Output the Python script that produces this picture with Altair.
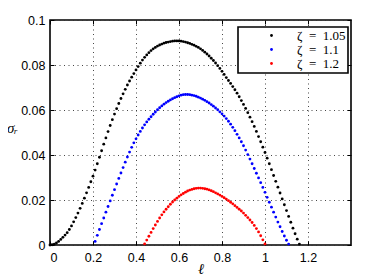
import altair as alt
import pandas as pd

# sigma_r, one value every 0.01 in ell
sigma_black = [
    0.0000, 0.0001, 0.0004, 0.0009, 0.0016, 0.0025, 0.0034, 0.0044, 0.0055, 0.0069,
    0.0085, 0.0103, 0.0122, 0.0142, 0.0163, 0.0185, 0.0208, 0.0232, 0.0256, 0.0281,
    0.0306, 0.0333, 0.0361, 0.0390, 0.0419, 0.0448, 0.0476, 0.0504, 0.0531, 0.0557,
    0.0582, 0.0606, 0.0629, 0.0651, 0.0672, 0.0692, 0.0711, 0.0729, 0.0746, 0.0762,
    0.0778, 0.0793, 0.0808, 0.0822, 0.0834, 0.0845, 0.0855, 0.0864, 0.0872, 0.0878,
    0.0884, 0.0889, 0.0893, 0.0897, 0.0900, 0.0902, 0.0904, 0.0906, 0.0907, 0.0907,
    0.0907, 0.0906, 0.0904, 0.0902, 0.0899, 0.0896, 0.0892, 0.0888, 0.0883, 0.0878,
    0.0872, 0.0865, 0.0857, 0.0849, 0.0840, 0.0830, 0.0820, 0.0809, 0.0797, 0.0785,
    0.0772, 0.0758, 0.0744, 0.0731, 0.0718, 0.0704, 0.0690, 0.0675, 0.0659, 0.0642,
    0.0625, 0.0607, 0.0588, 0.0568, 0.0548, 0.0527, 0.0505, 0.0482, 0.0459, 0.0435,
    0.0411, 0.0386, 0.0361, 0.0335, 0.0309, 0.0283, 0.0257, 0.0231, 0.0205, 0.0179,
    0.0153, 0.0127, 0.0101, 0.0075, 0.0050, 0.0026, 0.0004,
]
sigma_blue = [
    0.0016, 0.0043, 0.0069, 0.0095, 0.0120, 0.0146, 0.0171, 0.0196, 0.0221, 0.0246,
    0.0271, 0.0296, 0.0320, 0.0344, 0.0368, 0.0391, 0.0413, 0.0434, 0.0454, 0.0472,
    0.0489, 0.0505, 0.0520, 0.0534, 0.0547, 0.0559, 0.0570, 0.0581, 0.0591, 0.0601,
    0.0610, 0.0618, 0.0626, 0.0633, 0.0639, 0.0645, 0.0650, 0.0655, 0.0659, 0.0663,
    0.0666, 0.0668, 0.0669, 0.0669, 0.0668, 0.0666, 0.0664, 0.0661, 0.0657, 0.0653,
    0.0648, 0.0643, 0.0637, 0.0631, 0.0624, 0.0617, 0.0609, 0.0601, 0.0592, 0.0583,
    0.0573, 0.0562, 0.0550, 0.0537, 0.0523, 0.0508, 0.0492, 0.0476, 0.0459, 0.0441,
    0.0422, 0.0402, 0.0382, 0.0361, 0.0340, 0.0319, 0.0298, 0.0277, 0.0256, 0.0234,
    0.0212, 0.0190, 0.0168, 0.0146, 0.0124, 0.0102, 0.0081, 0.0060, 0.0040, 0.0021,
    0.0004,
]
sigma_red = [
    0.0005, 0.0022, 0.0039, 0.0056, 0.0073, 0.0089, 0.0105, 0.0120, 0.0134, 0.0147,
    0.0159, 0.0170, 0.0181, 0.0191, 0.0200, 0.0208, 0.0216, 0.0223, 0.0229, 0.0235,
    0.0240, 0.0244, 0.0247, 0.0250, 0.0252, 0.0253, 0.0253, 0.0252, 0.0250, 0.0248,
    0.0245, 0.0241, 0.0237, 0.0232, 0.0227, 0.0222, 0.0216, 0.0210, 0.0204, 0.0197,
    0.0190, 0.0183, 0.0175, 0.0167, 0.0159, 0.0151, 0.0142, 0.0132, 0.0122, 0.0111,
    0.0100, 0.0087, 0.0073, 0.0058, 0.0041, 0.0023, 0.0005,
]
ell_black = [round(0.01 * i, 2) for i in range(0, 117)]
ell_blue = [round(0.01 * i, 2) for i in range(21, 112)]
ell_red = [round(0.01 * i, 2) for i in range(44, 101)]

series_labels = ["ζ\u2002=\u20021.05", "ζ\u2002=\u20021.1", "ζ\u2002=\u20021.2"]
series_colors = ["#000000", "#0000ff", "#ff0000"]
x_ticks = [0, 0.2, 0.4, 0.6, 0.8, 1.0, 1.2]
y_ticks = [0, 0.02, 0.04, 0.06, 0.08, 0.1]

rows = []
for lab, ells, sig in zip(series_labels, [ell_black, ell_blue, ell_red],
                          [sigma_black, sigma_blue, sigma_red]):
    for l, s in zip(ells, sig):
        rows.append({"l": l, "s": s, "z": lab})
df = pd.DataFrame(rows)

W, H = 301, 225
xs = alt.Scale(domain=[0, 1.4], nice=False, zero=False)
ys = alt.Scale(domain=[0, 0.1], nice=False)

label_style = dict(labelFont="Liberation Sans", labelFontSize=12.5, labelColor="black")
grid_style = dict(grid=True, gridDash=[1, 3.5], gridColor="#333333", gridOpacity=0.9, gridWidth=1)
title_style = dict(titleFont="Liberation Serif", titleFontStyle="italic",
                   titleFontWeight="normal", titleFontSize=15, titleColor="black",
                   titleLimit=100)

main = alt.Chart(df).mark_circle(size=8, opacity=1).encode(
    x=alt.X("l:Q", scale=xs, axis=alt.Axis(
        orient="bottom", values=x_ticks, format="~g", ticks=False, domain=False,
        labelPadding=6, title="ℓ", titleY=28, titleBaseline="alphabetic",
        **title_style, **label_style, **grid_style)),
    y=alt.Y("s:Q", scale=ys, axis=alt.Axis(
        orient="left", values=y_ticks, format="~g", ticks=False, domain=False,
        labelPadding=5, title="σᵣ", titleAngle=0, titleX=-38, titleY=107,
        titleAlign="center", titleBaseline="middle",
        **title_style, **label_style, **grid_style)),
    color=alt.Color("z:N", scale=alt.Scale(domain=series_labels, range=series_colors),
                    legend=alt.Legend(title=None, orient="none", legendX=188, legendY=7,
                                      padding=2, symbolOffset=25, labelOffset=19,
                                      rowPadding=0, labelFont="Liberation Serif",
                                      labelFontSize=13, labelColor="black",
                                      symbolSize=8, symbolType="circle",
                                      symbolStrokeWidth=0,
                                      strokeColor="black", fillColor="white")),
)


def tick_layer(xo, yo):
    return alt.Chart(df).mark_point(opacity=0).encode(
        x=alt.X("l:Q", scale=xs, axis=alt.Axis(orient=xo, offset=-H, values=x_ticks,
                                               labels=False, domain=False, grid=False,
                                               ticks=True, tickSize=4, tickColor="black",
                                               tickWidth=1, title=None)),
        y=alt.Y("s:Q", scale=ys, axis=alt.Axis(orient=yo, offset=-W, values=y_ticks,
                                               labels=False, domain=False, grid=False,
                                               ticks=True, tickSize=4, tickColor="black",
                                               tickWidth=1, title=None)),
    )


chart = alt.layer(main, tick_layer("top", "right"), tick_layer("bottom", "left")).resolve_axis(
    x="independent", y="independent"
).properties(
    width=W, height=H,
    autosize=alt.AutoSizeParams(type="none"),
    padding={"left": 42, "top": 12, "right": 29, "bottom": 32},
).configure_view(stroke="black", strokeWidth=1.6).configure_legend(strokeWidth=1.6)

chart.save("out.html", embed_options={"renderer": "svg", "actions": False})
